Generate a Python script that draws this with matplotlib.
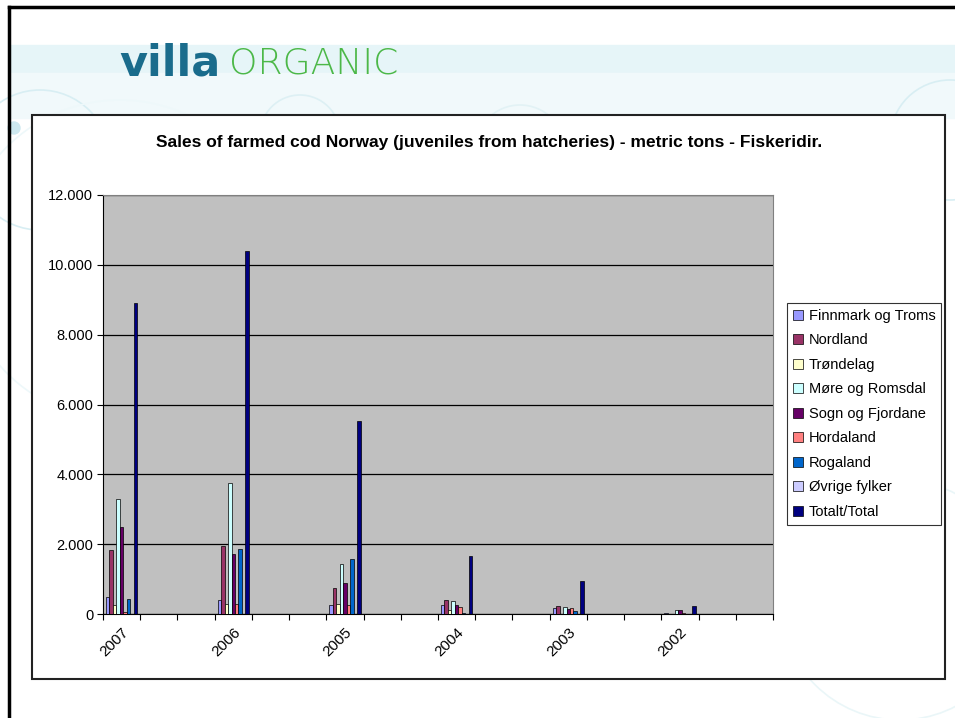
import matplotlib.pyplot as plt
import matplotlib.patches as mpatches
import numpy as np

plt.rcParams['font.family'] = ['Liberation Sans', 'DejaVu Sans']

years = ['2007', '2006', '2005', '2004', '2003', '2002']
regions = ['Finnmark og Troms', 'Nordland', 'Trøndelag', 'Møre og Romsdal',
           'Sogn og Fjordane', 'Hordaland', 'Rogaland', 'Øvrige fylker',
           'Totalt/Total']
colors = ['#9999FF', '#993366', '#FFFFCC', '#CCFFFF', '#660066',
          '#FF8080', '#0066CC', '#CCCCFF', '#000080']

finnmark = [480, 390, 260, 260, 160, 20]
nordland = [1830, 1940, 740, 400, 240, 0]
trondelag = [260, 300, 300, 115, 0, 0]
more = [3290, 3740, 1420, 370, 200, 105]
sogn = [2480, 1730, 880, 260, 135, 105]
hordaland = [60, 300, 260, 200, 160, 20]
rogaland = [430, 1870, 1570, 40, 75, 0]
ovrige = [0, 0, 0, 0, 0, 0]
total = [8900, 10400, 5520, 1670, 955, 240]
series = [finnmark, nordland, trondelag, more, sogn, hordaland, rogaland, ovrige, total]

W, H = 955, 718
fig = plt.figure(figsize=(W / 100, H / 100), dpi=100)

# slide background
bg = fig.add_axes([0, 0, 1, 1])
bg.set_xlim(0, W)
bg.set_ylim(H, 0)
bg.axis('off')
bg.add_patch(mpatches.Rectangle((0, 0), W, H, color='white'))
bg.add_patch(mpatches.Rectangle((9, 45), W, 28, color='#E6F5F8'))
bg.add_patch(mpatches.Rectangle((9, 73), W, 45, color='#F1F9FB'))
for cx, cy, r, c in [(40, 160, 70, '#D8EEF3'), (300, 135, 40, '#DDF0F4'),
                     (520, 150, 45, '#E2F2F5'), (900, 600, 120, '#EAF6F8'),
                     (120, 260, 160, '#EEF8FA'), (950, 140, 60, '#D8EEF3')]:
    bg.add_patch(mpatches.Circle((cx, cy), r, fill=False, ec=c, lw=1.2))
bg.add_patch(mpatches.Circle((14, 128), 6, color='#CDE8EF'))
bg.plot([9, 9], [7, H], color='black', lw=2.5)
bg.plot([9, W], [7, 7], color='black', lw=2.5)
bg.text(119, 75, 'villa', fontsize=31, fontweight='bold', color='#1A6C8C',
        family=['DejaVu Sans'], va='baseline')
bg.text(229, 73, 'ORGANIC', fontsize=26, color='#4CB848',
        family=['DejaVu Sans'], fontweight='light', va='baseline')

# chart area
bg.add_patch(mpatches.Rectangle((32, 115), 913, 564, fc='white', ec='#222222', lw=1.5))
bg.text(489, 143, 'Sales of farmed cod Norway (juveniles from hatcheries) - metric tons - Fiskeridir.',
        ha='center', va='center', fontsize=12.5, fontweight='bold')

ax = fig.add_axes([103 / W, 1 - 614 / H, 670 / W, 419 / H])
ax.set_facecolor('#C0C0C0')

x = np.arange(len(years)) * 3
n = len(series)
bw = 0.0935
for i, (vals, name, c) in enumerate(zip(series, regions, colors)):
    ax.bar(x + (i - (n - 1) / 2) * bw, vals, bw, color=c, edgecolor='black',
           linewidth=0.5, label=name, zorder=3)

ax.set_xlim(-0.5, 17.5)
ax.set_ylim(0, 12000)
ax.set_yticks(np.arange(0, 12001, 2000))
ax.set_yticklabels([f'{v:,}'.replace(',', '.') for v in range(0, 12001, 2000)], fontsize=10.5)
ax.yaxis.grid(True, color='black', lw=0.9)
ax.set_axisbelow(True)
ax.set_xticks(np.arange(-0.5, 18, 1))
ax.set_xticklabels([])
ax.set_xticks(x, minor=True)
ax.set_xticklabels(years, minor=True, rotation=45, ha='right',
                   rotation_mode='anchor', fontsize=11)
ax.tick_params(axis='x', which='minor', length=0, pad=8)
ax.tick_params(axis='x', which='major', length=4, direction='out', color='black')
ax.tick_params(axis='y', length=4, direction='out', pad=3)
for s in ['top', 'right']:
    ax.spines[s].set_color('#808080')
for s in ['left', 'bottom']:
    ax.spines[s].set_color('black')

leg = fig.legend(loc='upper left', bbox_to_anchor=(787 / W, 1 - 303 / H),
                 fontsize=10.5, frameon=True, fancybox=False, edgecolor='black',
                 handlelength=0.7, handleheight=0.7, handletextpad=0.4,
                 labelspacing=0.72, borderpad=0.4, borderaxespad=0)
leg.get_frame().set_linewidth(0.8)

fig.savefig('out.png', dpi=100)
